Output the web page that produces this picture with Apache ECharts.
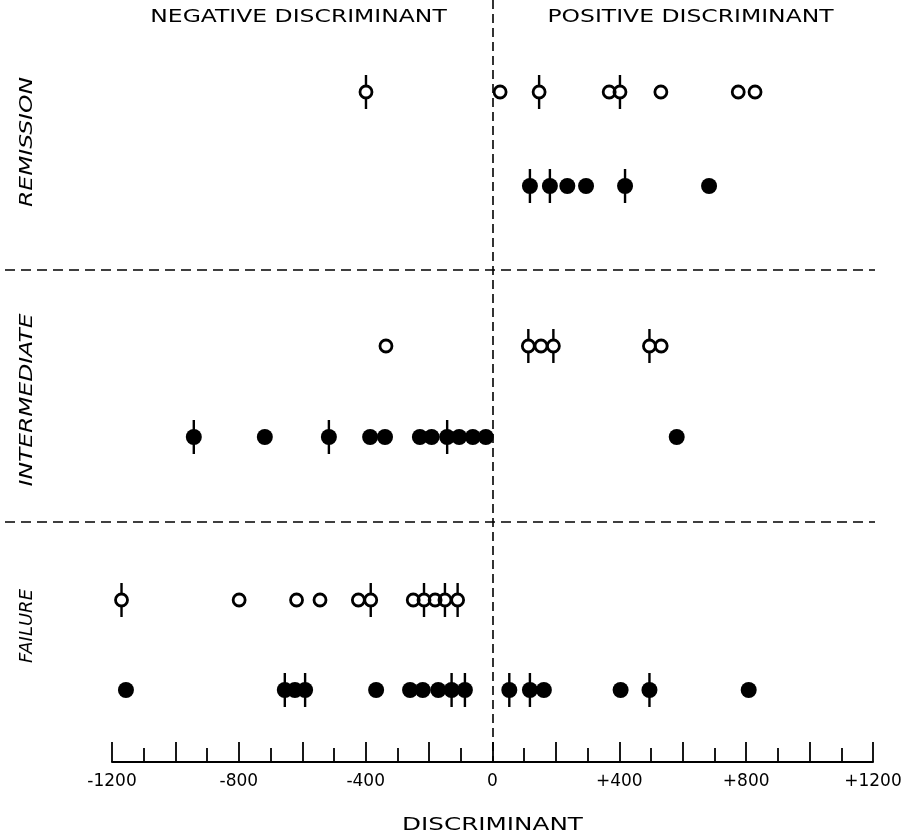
<!DOCTYPE html>
<html>
<head>
<meta charset="utf-8">
<script src="https://cdn.jsdelivr.net/npm/echarts@6/dist/echarts.min.js"></script>
<style>
  html, body { margin: 0; padding: 0; background: #fff; }
  #chart { width: 910px; height: 834px; }
</style>
</head>
<body>
<div id="chart"></div>
<script>
// Discriminant score of each case, grouped by outcome.
// "Open" and "Filled" are the two marker kinds; "Ticked" lists the cases drawn with a vertical bar.
const remissionOpen = [-399, 24, 147, 368, 402, 531, 775, 828];
const remissionOpenTicked = [-399, 147, 402];
const remissionFilled = [118, 181, 236, 295, 418, 683];
const remissionFilledTicked = [118, 181, 418];

const intermediateOpen = [-336, 113, 153, 192, 495, 532];
const intermediateOpenTicked = [113, 192, 495];
const intermediateFilled = [-942, -718, -516, -386, -339, -229, -192, -143, -105, -62, -21, 581];
const intermediateFilledTicked = [-942, -516, -143];

const failureOpen = [-1170, -799, -618, -544, -423, -384, -250, -216, -181, -150, -110];
const failureOpenTicked = [-1170, -384, -216, -150, -110];
const failureFilled = [-1156, -655, -623, -591, -367, -260, -220, -171, -129, -87, 53, 118, 162, 404, 495, 808];
const failureFilledTicked = [-655, -591, -129, -87, 53, 118, 495];

const groupNames = ['REMISSION', 'INTERMEDIATE', 'FAILURE'];
const sideNames = ['NEGATIVE DISCRIMINANT', 'POSITIVE DISCRIMINANT'];
const axisTitle = 'DISCRIMINANT';

// Vertical layout (top-down levels on a hidden axis)
const Y_MAX = 7.62;
const rows = [
  { open: remissionOpen, openT: remissionOpenTicked, filled: remissionFilled, filledT: remissionFilledTicked, yo: 0.92, yf: 1.86, mid: 1.42, stretch: 1.3 },
  { open: intermediateOpen, openT: intermediateOpenTicked, filled: intermediateFilled, filledT: intermediateFilledTicked, yo: 3.46, yf: 4.37, mid: 4.00, stretch: 1.3 },
  { open: failureOpen, openT: failureOpenTicked, filled: failureFilled, filledT: failureFilledTicked, yo: 6.00, yf: 6.90, mid: 6.26, stretch: 1.0 }
];
const dividers = [2.70, 5.22];

const FONT = '"DejaVu Sans", "Liberation Sans", sans-serif';
// bar above and below a marker, with a gap where the marker sits
const TICK_PATH = 'path://M0,0h2v10.5h-2z M0,23.5h2v10.5h-2z';

const series = [];
rows.forEach((r) => {
  const tickData = r.openT.map(v => [v, r.yo]).concat(r.filledT.map(v => [v, r.yf]));
  series.push({
    type: 'scatter', xAxisIndex: 0, yAxisIndex: 0, z: 2, silent: true,
    symbol: TICK_PATH, symbolSize: [2.4, 34], symbolKeepAspect: false,
    itemStyle: { color: '#000', opacity: 1 },
    data: tickData
  });
  series.push({
    type: 'scatter', xAxisIndex: 0, yAxisIndex: 0, z: 3, silent: true,
    symbol: 'circle', symbolSize: 12,
    itemStyle: { color: 'rgba(0,0,0,0)', borderColor: '#000', borderWidth: 2.8, opacity: 1 },
    data: r.open.map(v => [v, r.yo])
  });
  series.push({
    type: 'scatter', xAxisIndex: 0, yAxisIndex: 0, z: 3, silent: true,
    symbol: 'circle', symbolSize: 16,
    itemStyle: { color: '#000', opacity: 1 },
    data: r.filled.map(v => [v, r.yf])
  });
});

// zero line
series.push({
  type: 'scatter', xAxisIndex: 0, yAxisIndex: 0, data: [], silent: true,
  markLine: {
    silent: true, symbol: 'none', label: { show: false },
    lineStyle: { color: '#000', width: 1.6, type: [9, 5], opacity: 1 },
    data: [{ xAxis: 0 }]
  }
});
// group separators, spanning the full width
series.push({
  type: 'scatter', xAxisIndex: 1, yAxisIndex: 1, data: [], silent: true,
  markLine: {
    silent: true, symbol: 'none', label: { show: false },
    lineStyle: { color: '#000', width: 1.6, type: [10, 6], opacity: 1 },
    data: dividers.map(d => ({ yAxis: d }))
  }
});

const chart = echarts.init(document.getElementById('chart'), null, { renderer: 'canvas' });
chart.setOption({
  animation: false,
  backgroundColor: '#fff',
  grid: [
    { left: 112, right: 37, top: 0, bottom: 72 },
    { left: 5, right: 35, top: 0, bottom: 72 }
  ],
  xAxis: [
    {
      type: 'value', gridIndex: 0, min: -1200, max: 1200, interval: 200,
      axisLine: { show: true, onZero: false, lineStyle: { color: '#000', width: 2 } },
      axisTick: { show: true, inside: true, length: 20, lineStyle: { color: '#000', width: 1.8 } },
      minorTick: { show: true, splitNumber: 2, length: 14, lineStyle: { color: '#000', width: 1.8 } },
      splitLine: { show: false },
      minorSplitLine: { show: false },
      axisLabel: {
        color: '#000', fontSize: 17, fontFamily: FONT, margin: 11,
        formatter: v => (v % 400 === 0 ? (v > 0 ? '+' + v : String(v)) : '')
      }
    },
    { type: 'value', gridIndex: 1, min: 0, max: 1, show: false }
  ],
  yAxis: [
    { type: 'value', gridIndex: 0, inverse: true, min: 0, max: Y_MAX, show: false },
    { type: 'value', gridIndex: 1, inverse: true, min: 0, max: Y_MAX, show: false }
  ],
  series: series
});

// text labels placed from the axes; the lettering is set wide
const zeroTop = chart.convertToPixel({ gridIndex: 0 }, [0, 0]);
const zeroBottom = chart.convertToPixel({ gridIndex: 0 }, [0, Y_MAX]);
const graphics = [
  { type: 'text', x: zeroTop[0] - 194, y: 18, scaleX: 1.38,
    style: { text: sideNames[0], font: '17px ' + FONT, fill: '#000', textAlign: 'center', textVerticalAlign: 'middle' } },
  { type: 'text', x: zeroTop[0] + 198, y: 18, scaleX: 1.38,
    style: { text: sideNames[1], font: '17px ' + FONT, fill: '#000', textAlign: 'center', textVerticalAlign: 'middle' } },
  { type: 'text', x: zeroBottom[0], y: zeroBottom[1] + 64, scaleX: 1.45,
    style: { text: axisTitle, font: '17px ' + FONT, fill: '#000', textAlign: 'center', textVerticalAlign: 'middle' } }
];
rows.forEach((r, i) => {
  const p = chart.convertToPixel({ gridIndex: 0 }, [0, r.mid]);
  graphics.push({
    type: 'text', x: 27, y: p[1], rotation: Math.PI / 2, scaleX: r.stretch,
    style: { text: groupNames[i], font: 'italic 18px ' + FONT, fill: '#000', textAlign: 'center', textVerticalAlign: 'middle' }
  });
});
chart.setOption({ graphic: graphics });
</script>
</body>
</html>
